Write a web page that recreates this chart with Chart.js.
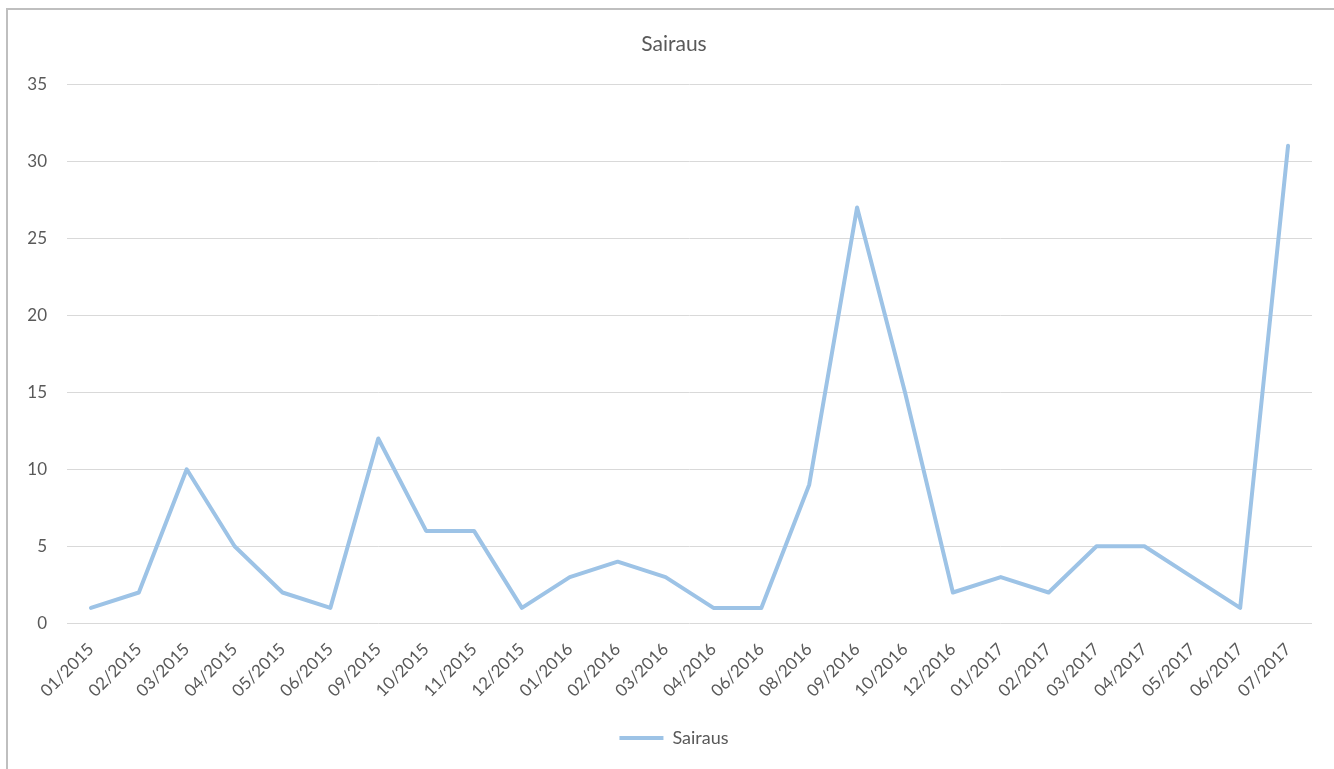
<!DOCTYPE html>
<html>
<head>
<meta charset="utf-8">
<script src="https://cdn.jsdelivr.net/npm/chart.js@4/dist/chart.umd.min.js"></script>
<style>
  html, body { margin: 0; padding: 0; background: #fff; }
  #frame {
    position: absolute; left: 6px; top: 8px; width: 1328px; height: 761px;
    border-left: 2px solid #bfbfbf; border-top: 2px solid #bfbfbf;
    box-sizing: border-box;
  }
  #wrap { position: absolute; left: 0; top: 0; width: 1334px; height: 769px; }
</style>
</head>
<body>
<div id="frame"></div>
<div id="wrap"><canvas id="myChart" width="1334" height="769"></canvas></div>
<script>
// kuukaudet ja sairaustapaukset
const months = [
    "01/2015", "02/2015", "03/2015", "04/2015", "05/2015", "06/2015", "09/2015",
    "10/2015", "11/2015", "12/2015", "01/2016", "02/2016", "03/2016", "04/2016",
    "06/2016", "08/2016", "09/2016", "10/2016", "12/2016", "01/2017", "02/2017",
    "03/2017", "04/2017", "05/2017", "06/2017", "07/2017"
];
const sairaus = [1, 2, 10, 5, 2, 1, 12, 6, 6, 1, 3, 4, 3, 1, 1, 9, 27, 15, 2, 3, 2, 5, 5, 3, 1, 31];
const yTicks = [0, 5, 10, 15, 20, 25, 30, 35];

const lineColor = "#9dc3e6";
const textColor = "#595959";
const fontName = "Lato";

function createLineChart(myChart, labels, values) {
    var ctx = myChart.getContext("2d");
    return new Chart(ctx, {
        type: "line",
        data: {
            labels: labels,
            datasets: [{
                label: "Sairaus",
                data: values,
                fill: false,
                borderColor: lineColor,
                backgroundColor: lineColor,
                borderWidth: 4,
                borderJoinStyle: "round",
                borderCapStyle: "round",
                pointRadius: 0,
                tension: 0
            }]
        },
        options: {
            responsive: false,
            animation: false,
            layout: { padding: { left: 22, right: 8, top: 10, bottom: 12 } },
            plugins: {
                title: {
                    display: true,
                    text: "Sairaus",
                    color: textColor,
                    font: { family: fontName, size: 21, weight: "normal" },
                    padding: { top: 22, bottom: 27 }
                },
                legend: {
                    position: "bottom",
                    labels: {
                        color: textColor,
                        font: { family: fontName, size: 18 },
                        usePointStyle: true,
                        pointStyle: "line",
                        pointStyleWidth: 44,
                        padding: 20
                    }
                },
                tooltip: { enabled: false }
            },
            scales: {
                x: {
                    offset: true,
                    grid: { display: false },
                    border: { display: false },
                    ticks: {
                        color: textColor,
                        font: { family: fontName, size: 17 },
                        maxRotation: 45,
                        minRotation: 45,
                        autoSkip: false,
                        padding: 8
                    }
                },
                y: {
                    min: 0,
                    max: 35,
                    afterBuildTicks: function (axis) {
                        axis.ticks = yTicks.map(function (v) { return { value: v }; });
                    },
                    afterFit: function (axis) { axis.width = 45; },
                    grid: { color: "#d9d9d9", lineWidth: 1, drawTicks: false },
                    border: { display: false },
                    ticks: {
                        color: textColor,
                        font: { family: fontName, size: 17 },
                        padding: 20
                    }
                },
                // tyhjä akseli oikealle, jotta otsikko on samassa kohdassa
                y2: {
                    position: "right",
                    grid: { display: false },
                    border: { display: false },
                    ticks: { display: false },
                    afterFit: function (axis) { axis.width = 14; }
                }
            }
        }
    });
}

createLineChart(document.getElementById("myChart"), months, sairaus);
</script>
</body>
</html>
